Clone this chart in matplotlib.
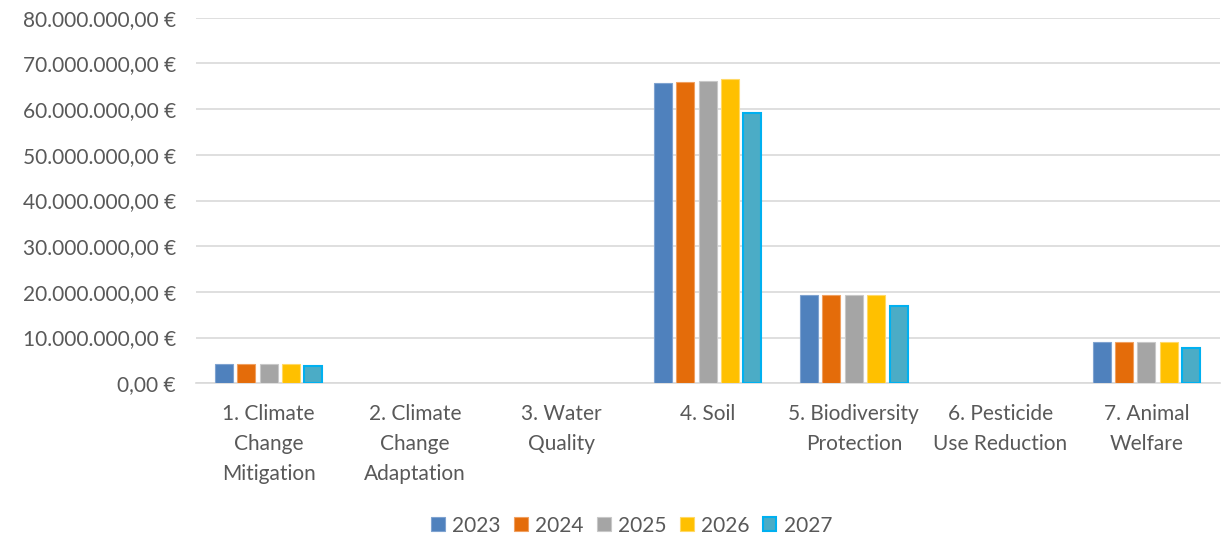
import matplotlib
matplotlib.use("Agg")
import matplotlib.pyplot as plt
import numpy as np
from matplotlib.ticker import FuncFormatter

categories = [
    "1. Climate\nChange\nMitigation",
    "2. Climate\nChange\nAdaptation",
    "3. Water\nQuality",
    "4. Soil",
    "5. Biodiversity\nProtection",
    "6. Pesticide\nUse Reduction",
    "7. Animal\nWelfare",
]
years = ["2023", "2024", "2025", "2026", "2027"]
v2023 = [4.3e6, 0, 0, 65.8e6, 19.3e6, 0, 9.0e6]
v2024 = [4.3e6, 0, 0, 66.0e6, 19.3e6, 0, 9.0e6]
v2025 = [4.3e6, 0, 0, 66.2e6, 19.3e6, 0, 9.0e6]
v2026 = [4.3e6, 0, 0, 66.6e6, 19.3e6, 0, 9.0e6]
v2027 = [3.8e6, 0, 0, 59.2e6, 16.9e6, 0, 7.7e6]

series = [v2023, v2024, v2025, v2026, v2027]
fills = ["#4F81BD", "#E46C0A", "#A5A5A5", "#FFC000", "#4BACC6"]
edges = ["#7FA3D0", "#F0A060", "#C8C8C8", "#FFD966", "#00B0F0"]

plt.rcParams["font.family"] = ["Lato", "DejaVu Sans"]
text_col = "#595959"

fig = plt.figure(figsize=(12.22, 5.39), dpi=100)
ax = fig.add_axes([0.16, 0.289, 0.838, 0.678])

x = np.arange(len(categories))
step = 0.153
width = 0.123
for i, (vals, fc, ec) in enumerate(zip(series, fills, edges)):
    base_lw = 1.5 if i == 4 else 0.8
    lws = [base_lw if v > 0 else 0 for v in vals]
    ax.bar(x + (i - 2) * step, vals, width=width, color=fc, edgecolor=ec,
           linewidth=lws, label=years[i], zorder=3)

ax.set_xlim(-0.5, len(categories) - 0.5)
ax.set_ylim(0, 80e6)
ax.set_yticks(np.arange(0, 80e6 + 1, 10e6))


def euro(v, pos):
    s = f"{v:,.2f}".replace(",", "X").replace(".", ",").replace("X", ".")
    return s + " €"


ax.yaxis.set_major_formatter(FuncFormatter(euro))
ax.set_xticks(x)
ax.set_xticklabels(categories, linespacing=1.62)
ax.tick_params(axis="both", length=0, labelsize=15, colors=text_col)
ax.tick_params(axis="x", pad=15)
ax.tick_params(axis="y", pad=14)
ax.grid(axis="y", color="#D9D9D9", linewidth=1.2, zorder=0)
for side in ["top", "right", "left"]:
    ax.spines[side].set_visible(False)
ax.spines["bottom"].set_color("#D9D9D9")
ax.spines["bottom"].set_linewidth(1.2)

fig.legend(loc="center", bbox_to_anchor=(0.517, 0.025), ncol=5, frameon=False,
           fontsize=15, handlelength=0.65, handleheight=0.65, handletextpad=0.35,
           columnspacing=0.65, labelcolor=text_col)

fig.savefig("out.png", dpi=100)
